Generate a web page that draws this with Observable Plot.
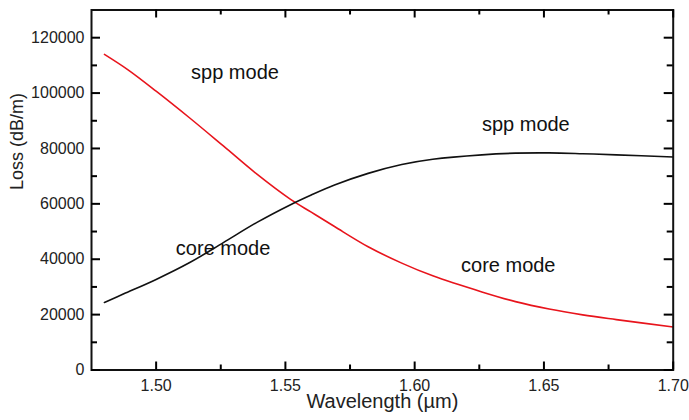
<!DOCTYPE html>
<html>
<head>
<meta charset="utf-8">
<script src="https://cdn.jsdelivr.net/npm/d3@7"></script>
<script src="https://cdn.jsdelivr.net/npm/@observablehq/plot@0.6"></script>
<style>
  html, body { margin: 0; padding: 0; background: #fff; }
  #chart { width: 689px; height: 420px; }
</style>
</head>
<body>
<div id="chart"></div>
<script>
// Red curve (spp mode at short wavelength -> core mode at long wavelength)
const redWavelength = [1.48, 1.489, 1.50, 1.513, 1.526, 1.539, 1.552, 1.560, 1.569, 1.582, 1.595, 1.607, 1.626, 1.639, 1.652, 1.665, 1.678, 1.70];
const redLoss       = [114000, 108500, 100700, 91000, 80900, 70700, 61600, 57000, 51800, 44500, 38600, 34000, 28200, 24700, 22000, 19900, 18200, 15500];

// Black curve (core mode at short wavelength -> spp mode at long wavelength)
const blackWavelength = [1.48, 1.4875, 1.50, 1.513, 1.526, 1.539, 1.552, 1.560, 1.569, 1.582, 1.595, 1.607, 1.626, 1.639, 1.652, 1.665, 1.678, 1.70];
const blackLoss       = [24400, 27500, 32700, 38800, 46000, 53300, 59700, 63200, 66800, 71000, 74200, 76100, 77700, 78300, 78400, 78100, 77700, 76900];

// Tick values
const xMajorTicks = [1.50, 1.55, 1.60, 1.65, 1.70];
const xMinorTicks = [1.525, 1.575, 1.625, 1.675];
const yMajorTicks = [0, 20000, 40000, 60000, 80000, 100000, 120000];
const yMinorTicks = [10000, 30000, 50000, 70000, 90000, 110000];

// Annotations
const annText = ["spp mode", "core mode", "spp mode", "core mode"];
const annX    = [1.5305, 1.5259, 1.643, 1.6362];
const annY    = [107500, 43700, 88700, 37700];

const xLabel = "Wavelength (\u00b5m)";
const yLabel = "Loss (dB/m)";

const red = redWavelength.map((w, i) => ({w, loss: redLoss[i]}));
const black = blackWavelength.map((w, i) => ({w, loss: blackLoss[i]}));
const ann = annText.map((t, i) => ({t, x: annX[i], y: annY[i]}));

const W = 689, H = 420, ML = 91, MR = 16.3, MT = 9.5, MB = 50.5;
const FW = W - ML - MR, FH = H - MT - MB;
const XMAJ = 8, XMIN = 5, YMAJ = 9, YMIN = 6;
const ts = {stroke: "#000", strokeWidth: 2};

const chart = Plot.plot({
  width: W,
  height: H,
  marginLeft: ML,
  marginRight: MR,
  marginTop: MT,
  marginBottom: MB,
  style: {fontFamily: "'Liberation Sans', Arial, sans-serif", fontSize: "16px", color: "#222", background: "#fff"},
  x: {domain: [1.475, 1.70]},
  y: {domain: [0, 130000]},
  marks: [
    // curves
    Plot.line(red, {x: "w", y: "loss", stroke: "#e8141c", strokeWidth: 1.6, curve: "catmull-rom"}),
    Plot.line(black, {x: "w", y: "loss", stroke: "#111", strokeWidth: 1.6, curve: "catmull-rom"}),
    Plot.frame({stroke: "#111", strokeWidth: 2}),
    // inward ticks on all four sides
    Plot.tickX(xMajorTicks, {...ts, x: d => d, insetTop: FH - XMAJ}),
    Plot.tickX(xMinorTicks, {...ts, x: d => d, insetTop: FH - XMIN}),
    Plot.tickX(xMajorTicks, {...ts, x: d => d, insetBottom: FH - XMAJ}),
    Plot.tickX(xMinorTicks, {...ts, x: d => d, insetBottom: FH - XMIN}),
    Plot.tickY(yMajorTicks, {...ts, y: d => d, insetRight: FW - YMAJ}),
    Plot.tickY(yMinorTicks, {...ts, y: d => d, insetRight: FW - YMIN}),
    Plot.tickY(yMajorTicks, {...ts, y: d => d, insetLeft: FW - YMAJ}),
    Plot.tickY(yMinorTicks, {...ts, y: d => d, insetLeft: FW - YMIN}),
    // tick labels
    Plot.axisX({anchor: "bottom", ticks: xMajorTicks, tickSize: 0, tickPadding: 10, label: null, tickFormat: d3.format(".2f"), fontSize: 16, fill: "#222"}),
    Plot.axisY({anchor: "left", ticks: yMajorTicks, tickSize: 0, tickPadding: 7, label: null, tickFormat: d3.format("d"), fontSize: 16, fill: "#222"}),
    // annotations
    Plot.text(ann, {x: "x", y: "y", text: "t", fontSize: 20, fill: "#111"}),
    // axis titles
    Plot.text([xLabel], {text: d => d, frameAnchor: "bottom", dy: 38, fontSize: 20, fill: "#222"}),
    Plot.text([yLabel], {text: d => d, frameAnchor: "left", dx: -74, rotate: -90, fontSize: 18, fill: "#222"})
  ]
});

document.getElementById("chart").appendChild(chart);
</script>
</body>
</html>
